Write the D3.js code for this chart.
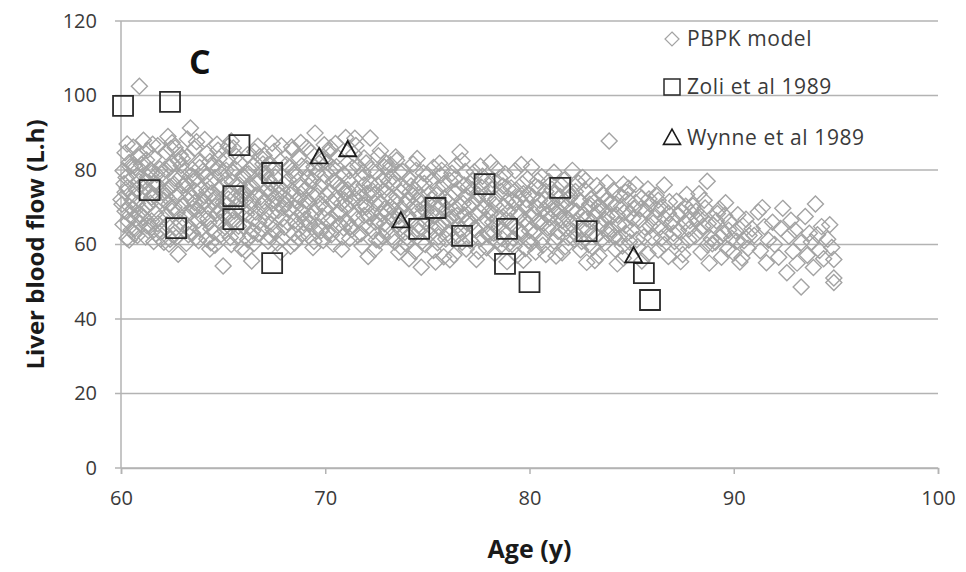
<!DOCTYPE html>
<html>
<head>
<meta charset="utf-8">
<script src="https://cdn.jsdelivr.net/npm/d3@7"></script>
<style>
  html, body { margin: 0; padding: 0; background: #fff; }
  svg text { font-family: "Open Sans", "Noto Sans", sans-serif; }
</style>
</head>
<body>
<svg id="chart" width="966" height="572"></svg>
<script>
// PBPK simulated individuals: [age (y), liver blood flow (L/h)]
const pbpk = [
  [60.0,72.1],[60.1,65.4],[60.1,79.8],[60.2,84.6],[60.2,68.9],[60.3,61.7],[60.3,75.2],[60.4,70.3],[60.4,82.0],[60.5,63.9],[60.5,77.5],[60.6,73.4],[60.6,86.1],[60.7,66.8],[60.7,80.7],[60.8,62.4],[60.8,71.0],[60.9,76.9],[60.9,84.2],[60.9,68.1],[60.2,74.0],[60.4,61.2],[60.6,69.5],[60.8,78.6],[60.3,87.0],[60.7,64.3],[60.9,102.5],
  [61.0,73.8],[61.0,81.5],[61.1,67.2],[61.2,62.0],[61.2,77.0],[61.3,85.3],[61.3,70.6],[61.4,64.9],[61.5,79.1],[61.5,72.7],[61.6,60.8],[61.6,83.4],[61.7,68.4],[61.8,75.9],[61.8,65.6],[61.9,80.3],[61.9,71.5],[61.1,88.0],[61.4,74.3],[61.7,62.9],[61.3,78.2],[61.5,66.3],[61.8,86.5],[61.2,69.8],[61.6,76.4],
  [62.0,63.5],[62.0,78.9],[62.1,71.9],[62.2,84.8],[62.2,67.7],[62.3,74.6],[62.4,61.4],[62.4,80.9],[62.5,69.0],[62.5,87.3],[62.6,76.2],[62.7,64.5],[62.7,72.8],[62.8,57.4],[62.8,82.5],[62.9,66.0],[62.9,78.0],[62.1,60.6],[62.3,89.0],[62.6,70.1],[62.4,75.5],[62.9,84.0],[62.2,73.0],[62.7,61.9],[62.5,81.7],
  [63.0,70.4],[63.0,83.1],[63.1,65.1],[63.2,76.6],[63.2,60.3],[63.3,73.9],[63.4,91.3],[63.4,68.6],[63.5,80.1],[63.5,63.1],[63.6,85.7],[63.6,71.2],[63.7,77.7],[63.8,66.5],[63.8,61.0],[63.9,74.8],[63.9,82.2],[63.1,79.5],[63.3,62.6],[63.5,69.7],[63.7,87.6],[63.2,72.3],[63.9,64.0],[63.4,78.4],
  [64.0,67.4],[64.0,79.6],[64.1,73.1],[64.2,61.5],[64.2,84.4],[64.3,70.0],[64.4,76.8],[64.4,64.2],[64.5,81.1],[64.6,59.8],[64.6,72.4],[64.7,86.9],[64.7,68.3],[64.8,75.0],[64.9,62.7],[64.9,79.0],[64.1,88.2],[64.3,65.8],[64.5,71.7],[64.8,83.0],[64.2,74.5],[64.6,77.9],[64.9,69.2],[64.4,60.5],
  [65.0,54.2],[65.0,71.3],[65.1,77.3],[65.1,63.6],[65.2,82.8],[65.3,68.0],[65.3,74.1],[65.4,60.0],[65.5,79.4],[65.5,85.9],[65.6,66.2],[65.6,72.9],[65.7,62.1],[65.8,76.0],[65.8,81.9],[65.9,69.4],[65.9,58.9],[65.2,70.7],[65.4,87.8],[65.7,75.6],[65.1,64.7],[65.6,80.2],[65.9,73.5],
  [66.0,65.0],[66.0,78.3],[66.1,72.0],[66.2,84.1],[66.2,61.3],[66.3,69.9],[66.4,75.7],[66.4,55.6],[66.5,81.2],[66.5,67.0],[66.6,73.2],[66.7,62.8],[66.7,86.4],[66.8,77.1],[66.9,70.5],[66.9,64.1],[66.1,58.3],[66.3,80.0],[66.6,68.7],[66.8,83.6],[66.2,74.9],[66.5,60.2],[66.9,79.7],
  [67.0,71.6],[67.0,83.9],[67.1,66.6],[67.2,77.6],[67.2,60.9],[67.3,73.7],[67.4,87.2],[67.4,68.2],[67.5,80.6],[67.6,63.4],[67.6,75.3],[67.7,70.8],[67.8,58.0],[67.8,82.3],[67.9,66.9],[67.9,74.4],[67.1,79.2],[67.3,62.2],[67.5,85.0],[67.7,69.1],[67.9,61.6],[67.3,76.5],[67.6,72.6],
  [68.0,64.6],[68.0,76.1],[68.1,81.4],[68.2,69.3],[68.3,59.5],[68.3,73.3],[68.4,85.5],[68.5,66.4],[68.5,78.7],[68.6,71.8],[68.7,61.8],[68.7,83.3],[68.8,75.4],[68.9,68.5],[68.9,63.0],[68.1,72.2],[68.4,79.9],[68.6,65.3],[68.8,87.4],[68.2,77.4],[68.9,70.2],[68.5,60.4],
  [69.0,74.7],[69.0,66.7],[69.1,80.4],[69.2,62.3],[69.2,71.4],[69.3,84.7],[69.4,77.2],[69.4,59.2],[69.5,89.9],[69.5,68.8],[69.6,73.0],[69.7,64.8],[69.7,81.8],[69.8,70.9],[69.9,76.7],[69.9,61.1],[69.1,86.0],[69.3,67.5],[69.6,79.3],[69.8,63.7],[69.2,75.8],[69.9,82.9],
  [70.0,69.6],[70.0,78.5],[70.1,63.2],[70.2,74.2],[70.2,85.1],[70.3,67.1],[70.4,80.5],[70.4,60.1],[70.5,72.5],[70.6,76.3],[70.6,83.5],[70.7,65.5],[70.8,71.1],[70.8,58.7],[70.9,79.0],[70.9,74.9],[70.1,82.0],[70.3,62.6],[70.5,87.1],[70.7,69.0],[70.9,64.4],[70.4,77.0],
  [71.0,73.6],[71.0,88.7],[71.1,66.0],[71.2,79.8],[71.2,61.6],[71.3,71.7],[71.4,84.3],[71.4,68.1],[71.5,75.1],[71.6,62.5],[71.6,81.0],[71.7,70.4],[71.8,77.8],[71.8,59.6],[71.9,67.8],[71.9,83.2],[71.1,74.7],[71.3,64.0],[71.5,86.6],[71.7,72.7],[71.9,76.0],
  [72.0,70.0],[72.0,81.9],[72.1,64.7],[72.2,76.4],[72.2,88.6],[72.3,68.4],[72.4,73.4],[72.4,58.6],[72.5,79.4],[72.6,66.3],[72.6,83.8],[72.7,71.3],[72.8,62.2],[72.8,77.3],[72.9,69.5],[72.9,80.8],[72.1,56.8],[72.3,74.5],[72.5,61.3],[72.7,85.2],[72.9,65.6],
  [73.0,75.3],[73.0,63.9],[73.1,80.0],[73.2,70.1],[73.3,66.8],[73.3,78.1],[73.4,60.7],[73.5,72.8],[73.5,82.6],[73.6,67.6],[73.7,74.0],[73.7,59.3],[73.8,79.6],[73.9,70.8],[73.9,63.3],[73.1,76.9],[73.4,69.2],[73.6,57.9],[73.8,65.0],[73.2,81.4],
  [74.0,71.9],[74.0,61.9],[74.1,77.7],[74.2,66.5],[74.3,81.6],[74.3,73.1],[74.4,58.1],[74.5,68.7],[74.6,76.6],[74.6,63.6],[74.7,53.9],[74.7,71.0],[74.8,79.2],[74.9,65.9],[74.9,60.0],[74.2,75.7],[74.5,83.1],[74.8,69.6],[74.1,56.2],[74.4,74.6],
  [75.0,67.0],[75.0,78.8],[75.1,62.7],[75.2,72.2],[75.3,80.7],[75.3,58.4],[75.4,69.9],[75.5,75.0],[75.6,64.6],[75.6,81.8],[75.7,70.6],[75.8,56.7],[75.8,76.3],[75.9,66.1],[75.9,61.5],[75.1,73.7],[75.4,55.3],[75.7,79.9],[75.2,68.3],[75.5,60.5],
  [76.0,71.5],[76.0,63.0],[76.1,77.2],[76.2,67.3],[76.3,57.2],[76.3,74.1],[76.4,81.2],[76.5,65.2],[76.6,84.8],[76.6,70.3],[76.7,60.6],[76.8,76.0],[76.8,68.0],[76.9,73.0],[76.9,58.8],[76.2,79.1],[76.5,62.4],[76.7,82.5],[76.1,55.9],[76.4,69.7],
  [77.0,66.6],[77.0,75.5],[77.1,61.1],[77.2,71.2],[77.3,79.5],[77.3,64.3],[77.4,56.0],[77.5,73.3],[77.6,68.6],[77.6,81.0],[77.7,62.0],[77.8,70.0],[77.8,77.0],[77.9,59.1],[77.9,66.7],[77.2,74.7],[77.5,58.2],[77.7,78.3],[77.4,63.8],
  [78.0,72.4],[78.0,62.5],[78.1,68.2],[78.2,77.4],[78.3,57.6],[78.3,70.7],[78.4,80.3],[78.5,65.0],[78.6,74.3],[78.6,59.7],[78.7,67.4],[78.8,79.0],[78.8,63.3],[78.9,71.6],[78.9,55.4],[78.1,82.0],[78.4,61.0],[78.7,75.7],[78.2,66.0],
  [79.0,69.0],[79.0,60.2],[79.1,75.2],[79.2,64.9],[79.3,79.8],[79.3,71.0],[79.4,57.1],[79.5,67.7],[79.6,81.5],[79.6,62.8],[79.7,73.6],[79.8,58.9],[79.8,69.9],[79.9,77.6],[79.9,65.4],[79.2,61.7],[79.5,72.3],[79.7,55.8],
  [80.0,73.4],[80.0,63.7],[80.1,80.8],[80.2,68.3],[80.3,58.0],[80.3,75.6],[80.4,66.2],[80.5,71.8],[80.6,61.2],[80.6,78.2],[80.7,69.3],[80.8,57.3],[80.8,74.2],[80.9,64.5],[80.1,60.4],[80.4,77.1],[80.7,65.7],[80.9,70.6],
  [81.0,67.1],[81.1,74.8],[81.2,60.9],[81.2,79.4],[81.3,69.6],[81.4,63.5],[81.5,72.9],[81.6,57.8],[81.6,66.4],[81.7,77.3],[81.8,70.2],[81.9,61.9],[81.9,74.0],[81.3,56.9],[81.5,68.8],[81.8,64.3],[81.1,71.5],
  [82.0,65.6],[82.0,73.0],[82.1,79.9],[82.2,61.4],[82.3,68.9],[82.4,76.5],[82.5,58.6],[82.5,71.4],[82.6,64.1],[82.7,74.6],[82.8,66.9],[82.9,59.9],[82.9,70.0],[82.3,62.7],[82.6,78.0],[82.8,55.2],
  [83.0,72.2],[83.1,63.2],[83.2,68.0],[83.3,75.8],[83.4,57.0],[83.4,70.5],[83.5,65.3],[83.6,73.5],[83.7,60.3],[83.8,67.5],[83.9,87.8],[83.9,62.6],[83.2,55.7],[83.6,69.4],[83.8,76.6],[83.1,59.2],
  [84.0,71.0],[84.0,64.0],[84.1,74.5],[84.2,58.7],[84.3,67.9],[84.4,61.6],[84.5,70.2],[84.6,76.2],[84.6,56.3],[84.7,65.1],[84.8,72.0],[84.9,60.7],[84.9,68.2],[84.3,54.8],[84.7,74.0],
  [85.0,63.8],[85.1,69.7],[85.2,76.1],[85.3,59.4],[85.4,66.6],[85.5,72.5],[85.6,62.0],[85.7,68.9],[85.8,74.9],[85.8,57.5],[85.9,65.0],[85.2,71.3],[85.5,55.6],[85.9,70.8],
  [86.0,61.8],[86.1,67.3],[86.2,73.2],[86.3,58.5],[86.4,64.6],[86.5,70.0],[86.6,76.0],[86.7,62.9],[86.8,56.8],[86.8,68.4],[86.9,65.5],[86.3,71.9],[86.6,60.0],
  [87.0,66.3],[87.1,60.8],[87.2,71.6],[87.3,63.7],[87.4,69.0],[87.5,57.3],[87.6,65.9],[87.7,73.4],[87.8,61.2],[87.9,68.6],[87.4,55.4],[87.8,64.1],
  [88.0,70.4],[88.1,62.3],[88.2,66.8],[88.3,73.6],[88.4,58.0],[88.5,64.9],[88.6,69.8],[88.7,77.0],[88.8,55.0],[88.9,61.5],[88.4,67.6],[88.7,59.9],
  [89.0,65.2],[89.1,60.6],[89.2,68.3],[89.4,56.6],[89.5,63.0],[89.6,71.2],[89.7,58.7],[89.8,66.2],[89.9,61.7],[89.3,69.5],
  [90.0,57.7],[90.1,63.6],[90.2,68.0],[90.3,55.3],[90.5,61.0],[90.6,66.8],[90.7,59.0],[90.9,64.2],[90.4,56.4],
  [91.0,62.4],[91.2,68.7],[91.3,58.3],[91.5,64.8],[91.6,55.1],[91.7,61.2],[91.9,66.0],[91.4,69.9],
  [92.0,60.0],[92.2,56.6],[92.3,64.3],[92.4,69.7],[92.6,52.4],[92.7,62.2],[92.9,58.1],[92.8,66.5],
  [93.0,63.8],[93.1,55.0],[93.3,48.6],[93.3,60.5],[93.5,67.5],[93.6,57.1],[93.7,63.0],[93.9,53.8],[93.8,60.7],
  [94.0,70.9],[94.1,62.6],[94.2,58.4],[94.3,64.8],[94.4,56.2],[94.6,61.4],[94.7,65.3],[94.8,59.2],
  [94.9,56.0],[94.9,51.0],[94.9,49.8],
  [60.05,70.8],[60.15,76.3],[60.35,66.2],[60.45,80.9],[60.55,71.9],[60.65,62.8],[60.75,74.6],[60.85,83.5],[60.95,65.7],[60.25,78.0],[60.45,67.9],[60.65,81.3],
  [61.05,69.1],[61.15,75.4],[61.25,82.7],[61.35,63.7],[61.45,71.1],[61.55,86.9],[61.65,73.0],[61.75,78.8],[61.85,67.0],[61.95,61.5],[61.45,80.0],[61.25,65.1],
  [62.05,74.0],[62.15,80.2],[62.25,65.3],[62.35,70.9],[62.45,85.8],[62.55,62.6],[62.65,77.7],[62.75,68.5],[62.85,73.6],[62.95,81.2],[62.35,60.1],[62.65,86.0],
  [63.05,75.9],[63.15,68.0],[63.25,83.6],[63.35,64.4],[63.45,72.5],[63.55,77.0],[63.65,61.8],[63.75,69.3],[63.85,80.7],[63.95,70.6],[63.25,88.3],[63.65,74.3],
  [64.05,71.6],[64.15,78.3],[64.25,66.9],[64.35,82.3],[64.45,73.8],[64.55,63.3],[64.65,70.2],[64.75,80.6],[64.85,66.0],[64.95,75.7],[64.35,58.8],[64.75,85.3],
  [65.05,67.8],[65.15,79.9],[65.25,72.2],[65.35,61.9],[65.45,76.7],[65.55,69.0],[65.65,83.7],[65.75,64.9],[65.85,71.6],[65.95,78.5],[65.45,66.5],[65.25,86.4],
  [66.05,73.9],[66.15,68.1],[66.25,79.0],[66.35,62.4],[66.45,71.5],[66.55,84.9],[66.65,76.4],[66.75,66.0],[66.85,72.8],[66.95,81.6],[66.45,63.6],
  [67.05,68.7],[67.15,74.9],[67.25,81.5],[67.35,65.5],[67.45,71.0],[67.55,78.1],[67.65,60.4],[67.75,73.4],[67.85,86.5],[67.95,69.9],[67.45,64.0],
  [68.05,70.9],[68.15,66.0],[68.25,80.8],[68.35,74.6],[68.45,62.8],[68.55,69.8],[68.65,77.0],[68.75,72.6],[68.85,81.1],[68.95,65.8],[68.35,86.2],
  [69.05,71.8],[69.15,77.8],[69.25,65.6],[69.35,73.5],[69.45,80.9],[69.55,63.5],[69.65,70.1],[69.75,75.5],[69.85,67.6],[69.95,86.8],[69.45,60.9],
  [70.05,73.2],[70.15,66.4],[70.25,79.7],[70.35,71.4],[70.45,64.2],[70.55,80.9],[70.65,68.4],[70.75,75.7],[70.85,62.1],[70.95,71.9],[70.25,86.0],
  [71.05,69.9],[71.15,77.1],[71.25,64.8],[71.35,80.6],[71.45,72.3],[71.55,66.8],[71.65,74.0],[71.75,62.9],[71.85,79.4],[71.95,70.7],[71.45,88.5],
  [72.05,73.7],[72.15,67.3],[72.25,80.1],[72.35,63.5],[72.45,71.0],[72.55,76.0],[72.65,61.0],[72.75,68.2],[72.85,74.3],[72.95,82.1],[72.45,66.0],
  [73.05,68.6],[73.15,73.0],[73.25,62.1],[73.35,76.3],[73.45,71.6],[73.55,65.3],[73.65,79.4],[73.75,69.6],[73.85,75.3],[73.95,60.4],[73.45,83.5],
  [74.05,67.8],[74.15,74.0],[74.25,62.9],[74.35,70.5],[74.45,79.9],[74.55,65.1],[74.65,72.9],[74.75,60.8],[74.85,76.4],[74.95,68.9],
  [75.05,71.0],[75.15,64.9],[75.25,77.1],[75.35,67.6],[75.45,73.3],[75.55,62.1],[75.65,78.6],[75.75,66.0],[75.85,72.2],[75.95,69.5],
  [76.05,66.8],[76.15,72.6],[76.25,61.4],[76.35,77.6],[76.45,67.8],[76.55,74.8],[76.65,64.0],[76.75,71.0],[76.85,79.6],[76.95,65.8],
  [77.05,70.2],[77.15,65.6],[77.25,77.2],[77.35,68.0],[77.45,72.3],[77.55,61.5],[77.65,75.4],[77.75,66.2],[77.85,73.4],[77.95,63.1],
  [78.05,68.9],[78.15,74.9],[78.25,63.0],[78.35,72.2],[78.45,67.0],[78.55,77.9],[78.65,61.6],[78.75,70.3],[78.85,66.6],[78.95,75.0],
  [79.05,66.3],[79.15,71.9],[79.25,59.5],[79.35,74.6],[79.45,68.5],[79.55,63.7],[79.65,76.3],[79.75,66.7],[79.85,72.0],[79.95,61.0],
  [80.05,67.7],[80.15,72.8],[80.25,63.0],[80.35,70.0],[80.45,75.2],[80.55,66.0],[80.65,59.8],[80.75,72.1],[80.85,67.9],[80.95,76.9],
  [81.05,64.5],[81.15,69.2],[81.25,73.6],[81.35,62.0],[81.45,67.7],[81.55,76.0],[81.65,70.9],[81.75,59.4],[81.85,66.9],[81.95,72.4],
  [82.05,69.4],[82.15,63.4],[82.25,74.2],[82.35,66.3],[82.45,71.9],[82.55,60.8],[82.65,68.0],[82.75,77.2],[82.85,63.9],[82.95,70.8],
  [83.05,66.2],[83.15,71.3],[83.25,62.3],[83.35,68.8],[83.45,74.3],[83.55,61.4],[83.65,66.8],[83.75,71.8],[83.85,64.0],
  [84.05,67.5],[84.15,62.2],[84.25,70.8],[84.35,65.4],[84.45,73.2],[84.55,59.6],[84.65,68.6],[84.75,62.9],[84.85,75.1],
  [85.05,67.0],[85.25,61.3],[85.45,69.6],[85.65,64.6],[85.85,72.2],[86.05,65.8],[86.25,69.4],[86.45,61.7],[86.65,66.9],[86.85,71.5],
  [87.05,63.0],[87.25,67.8],[87.45,60.0],[87.65,70.3],[87.85,66.4],
  [88.15,68.9],[88.35,63.6],[88.55,71.9],[88.75,65.6],[88.95,60.2],[89.15,66.4],[89.35,62.0],[89.55,67.8],[89.75,63.8],
  [90.15,60.9],[90.45,65.0],[90.75,62.4]
];

// Zoli et al 1989 measurements: [age, flow]
const zoli = [
  [60.1,97.2],[62.4,98.3],[61.4,74.6],[62.7,64.4],[65.8,86.7],[65.5,73.0],[65.5,66.8],
  [67.4,79.2],[67.4,55.0],[74.6,64.2],[75.4,69.8],[76.7,62.3],[77.8,76.2],[78.9,64.2],
  [78.8,54.8],[80.0,49.9],[81.5,75.2],[82.8,63.6],[85.6,52.3],[85.9,45.1]
];

// Wynne et al 1989 measurements: [age, flow]
const wynne = [[69.7,83.5],[71.1,85.4],[73.7,66.3],[85.1,56.9]];

const xTicks = [60, 70, 80, 90, 100];
const yTicks = [0, 20, 40, 60, 80, 100, 120];
const legendLabels = ["PBPK model", "Zoli et al 1989", "Wynne et al 1989"];
const panelLetter = "C";

const svg = d3.select("#chart");
const plotLeft = 121, plotRight = 938, plotTop = 21, plotBottom = 468;

const x = d3.scaleLinear().domain([60, 100]).range([plotLeft, plotRight]);
const y = d3.scaleLinear().domain([0, 120]).range([plotBottom, plotTop]);

const gridColor = "#b3b3b3";
const textColor = "#3a3a3a";

// horizontal gridlines (extend a little past the axis as ticks)
svg.append("g")
  .selectAll("line")
  .data(yTicks)
  .join("line")
  .attr("x1", plotLeft - 6).attr("x2", plotRight)
  .attr("y1", d => y(d)).attr("y2", d => y(d))
  .attr("stroke", gridColor).attr("stroke-width", 1.5);

// y axis line
svg.append("line")
  .attr("x1", plotLeft).attr("x2", plotLeft)
  .attr("y1", plotTop).attr("y2", plotBottom)
  .attr("stroke", gridColor).attr("stroke-width", 1.5);

// x axis
const xAxis = svg.append("g")
  .attr("transform", `translate(0,${plotBottom})`)
  .call(d3.axisBottom(x).tickValues(xTicks).tickSize(6).tickPadding(17));
xAxis.select(".domain").attr("stroke", gridColor).attr("stroke-width", 1.5);
xAxis.selectAll(".tick line").attr("stroke", gridColor).attr("stroke-width", 1.5);
xAxis.selectAll(".tick text")
  .attr("fill", textColor).attr("font-size", 20)
  .style("font-family", '"Open Sans", sans-serif');

// y tick labels
const yAxis = svg.append("g")
  .attr("transform", `translate(${plotLeft},0)`)
  .call(d3.axisLeft(y).tickValues(yTicks).tickSize(0).tickPadding(24));
yAxis.select(".domain").remove();
yAxis.selectAll(".tick text")
  .attr("fill", textColor).attr("font-size", 20)
  .style("font-family", '"Open Sans", sans-serif');

// axis titles
svg.append("text")
  .attr("x", x(80)).attr("y", 558)
  .attr("text-anchor", "middle")
  .attr("font-size", 25).attr("font-weight", "bold").attr("fill", "#1a1a1a")
  .text("Age (y)");

svg.append("text")
  .attr("transform", `translate(44,${(plotTop + plotBottom) / 2}) rotate(-90)`)
  .attr("text-anchor", "middle")
  .attr("font-size", 24).attr("font-weight", "bold").attr("fill", "#1a1a1a")
  .text("Liver blood flow (L.h)");

// panel letter
svg.append("text")
  .attr("x", 189).attr("y", 74)
  .attr("font-size", 34).attr("font-weight", "bold").attr("fill", "#111")
  .text(panelLetter);

// marker shapes
const diamondPath = r => `M0,${-r}L${r},0L0,${r}L${-r},0Z`;
const squarePath = s => `M${-s},${-s}H${s}V${s}H${-s}Z`;
const trianglePath = s => `M0,${-s * 1.05}L${s},${s * 0.75}L${-s},${s * 0.75}Z`;

// PBPK diamonds
svg.append("g")
  .selectAll("path")
  .data(pbpk)
  .join("path")
  .attr("transform", d => `translate(${x(d[0])},${y(d[1])})`)
  .attr("d", diamondPath(8))
  .attr("fill", "none")
  .attr("stroke", "#a3a3a3")
  .attr("stroke-width", 1.4);

// Zoli squares
svg.append("g")
  .selectAll("path")
  .data(zoli)
  .join("path")
  .attr("transform", d => `translate(${x(d[0])},${y(d[1])})`)
  .attr("d", squarePath(10))
  .attr("fill", "none")
  .attr("stroke", "#2a2a2a")
  .attr("stroke-width", 1.8);

// Wynne triangles
svg.append("g")
  .selectAll("path")
  .data(wynne)
  .join("path")
  .attr("transform", d => `translate(${x(d[0])},${y(d[1])})`)
  .attr("d", trianglePath(8.5))
  .attr("fill", "none")
  .attr("stroke", "#1a1a1a")
  .attr("stroke-width", 1.8);

// legend
const legend = svg.append("g");
const legendRows = [
  { label: legendLabels[0], y: 39, d: diamondPath(7), stroke: "#a3a3a3", sw: 1.2 },
  { label: legendLabels[1], y: 87, d: squarePath(8), stroke: "#2a2a2a", sw: 1.5 },
  { label: legendLabels[2], y: 138, d: trianglePath(8.5), stroke: "#1a1a1a", sw: 1.6 }
];
legendRows.forEach(r => {
  legend.append("path")
    .attr("transform", `translate(672,${r.y})`)
    .attr("d", r.d).attr("fill", "none")
    .attr("stroke", r.stroke).attr("stroke-width", r.sw);
  legend.append("text")
    .attr("x", 687).attr("y", r.y + 7)
    .attr("font-size", 21).attr("letter-spacing", 0.6).attr("fill", textColor)
    .text(r.label);
});
</script>
</body>
</html>
